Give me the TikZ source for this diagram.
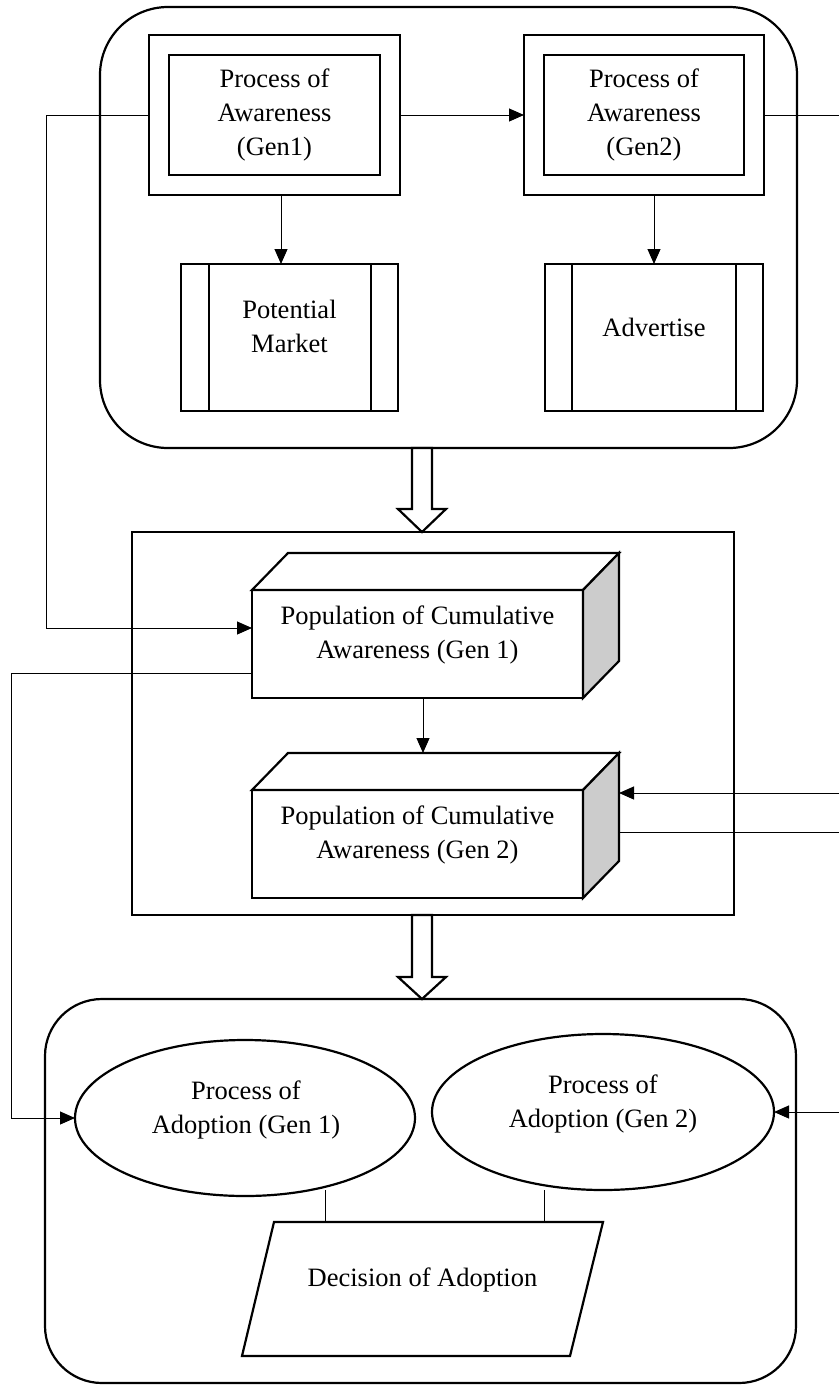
\documentclass[tikz,border=0pt]{standalone}
\usepackage{fontspec}
\setmainfont{Liberation Serif}
\usetikzlibrary{arrows.meta,shapes.geometric,calc}
\begin{document}
\begin{tikzpicture}[x=1pt,y=-1pt,
  bord/.style={draw, line width=2.2pt, inner sep=0pt, outer sep=0pt},
  wire/.style={line width=1pt},
  conn/.style={line width=1pt,-{Triangle[length=15pt,width=13pt]}},
  txt/.style={font=\fontsize{26.5}{34}\selectfont, align=center, inner sep=0pt},
  blockarrow/.style={line width=2.2pt, fill=white, line join=miter}]
\useasboundingbox (0,0) rectangle (839,1385);
% helper coordinates
\coordinate (re) at (839,0);
\coordinate (gl) at (46,0);
\coordinate (ll) at (11,0);
\coordinate (x1) at (281,0);
\coordinate (x2) at (423,0);
% ---------- top group ----------
\node[bord, rounded corners=68pt, minimum width=697pt, minimum height=441pt] (topgrp) at (448.5,227.5) {};
\node[bord, fill=white, minimum width=251pt, minimum height=160pt] (g1o) at (274.5,115) {};
\node[bord, txt, minimum width=211pt, minimum height=120pt] (g1i) at (274.5,115) {Process of\\Awareness\\(Gen1)};
\node[bord, fill=white, minimum width=240pt, minimum height=160pt] (g2o) at (644,115) {};
\node[bord, txt, minimum width=200pt, minimum height=120pt] (g2i) at (644,115) {Process of\\Awareness\\(Gen2)};
\node[bord, minimum width=217pt, minimum height=147pt] (pm) at (289.5,337.5) {};
\draw[bord] ([xshift=28pt]pm.north west) -- ([xshift=28pt]pm.south west);
\draw[bord] ([xshift=-27pt]pm.north east) -- ([xshift=-27pt]pm.south east);
\node[txt] (pmt) at (289.5,326) {Potential\\Market};
\node[bord, minimum width=218pt, minimum height=147pt] (adv) at (654,337.5) {};
\draw[bord] ([xshift=27pt]adv.north west) -- ([xshift=27pt]adv.south west);
\draw[bord] ([xshift=-27pt]adv.north east) -- ([xshift=-27pt]adv.south east);
\node[txt] (advt) at (654,327) {Advertise};
\draw[conn] (g1o.east) -- (g2o.west);
\draw[conn] (g1o.south -| x1) -- (pm.north -| x1);
\draw[conn] (g2o.south -| adv.north) -- (adv.north);
\draw[wire] (g2o.east) -- (g2o.east -| re);
% block arrow 1
\draw[blockarrow] (412,448) -- (412,509) -- (398,509) -- (422,532) -- (446,509) -- (432,509) -- (432,448) -- cycle;
% ---------- middle group ----------
\node[bord, minimum width=602pt, minimum height=383pt] (mid) at (433,723.5) {};
\node[bord, fill=white, minimum width=331pt, minimum height=108pt] (c1) at (417.5,644) {};
\draw[bord, fill=white] (c1.north west) -- ++(36,-37) -- ++(331,0) -- (c1.north east) -- cycle;
\draw[bord, fill=gray!40] (c1.north east) -- ++(36,-37) -- ++(0,108) -- (c1.south east) -- cycle;
\node[txt] (c1t) at (417.5,635) {Population of Cumulative\\Awareness (Gen 1)};
\node[bord, fill=white, minimum width=331pt, minimum height=108pt] (c2) at (417.5,844) {};
\draw[bord, fill=white] (c2.north west) -- ++(36,-37) -- ++(331,0) -- (c2.north east) -- cycle;
\draw[bord, fill=gray!40] (c2.north east) -- ++(36,-37) -- ++(0,108) -- (c2.south east) -- cycle;
\node[txt] (c2t) at (417.5,834.5) {Population of Cumulative\\Awareness (Gen 2)};
\coordinate (c1in) at ([yshift=16pt]c1.west);
\coordinate (c1out) at ([yshift=-29pt]c1.west);
\coordinate (c2top) at ([yshift=37pt]c2.north);
\coordinate (c2in) at ([shift={(36pt,51pt)}]c2.east);
\coordinate (c2out) at ([shift={(36pt,12pt)}]c2.east);
\draw[conn] (g1o.west) -- (g1o.west -| gl) |- (c1in);
\draw[conn] (c1.south -| x2) -- (c2top -| x2);
\draw[conn] (c2in -| re) -- (c2in);
\draw[wire] (c2out) -- (c2out -| re);
% block arrow 2
\draw[blockarrow] (412,915) -- (412,977) -- (398,977) -- (422,999) -- (446,977) -- (432,977) -- (432,915) -- cycle;
% ---------- bottom group ----------
\node[bord, rounded corners=57pt, minimum width=751pt, minimum height=384pt] (bot) at (420.5,1191) {};
\node[bord, ellipse, minimum width=340pt, minimum height=156pt] (e1) at (245,1118) {};
\node[txt] (e1t) at (246,1110) {Process of\\Adoption (Gen 1)};
\node[bord, ellipse, minimum width=342pt, minimum height=156pt] (e2) at (603,1112) {};
\node[txt] (e2t) at (603,1104) {Process of\\Adoption (Gen 2)};
\draw[conn] (c1out) -- (c1out -| ll) |- (e1.west);
\draw[conn] (e2.east -| re) -- (e2.east);
\draw[bord, fill=white] (242,1356) -- (274,1222) -- (603,1222) -- (570,1356) -- cycle;
\node[txt] (dec) at (422.5,1280) {Decision of Adoption};
\coordinate (dtop) at (422.5,1222);
\coordinate (d1) at (325,1190);
\coordinate (d2) at (544,1190);
\draw[wire] (d1) -- (d1 |- dtop);
\draw[wire] (d2) -- (d2 |- dtop);
\end{tikzpicture}
\end{document}
